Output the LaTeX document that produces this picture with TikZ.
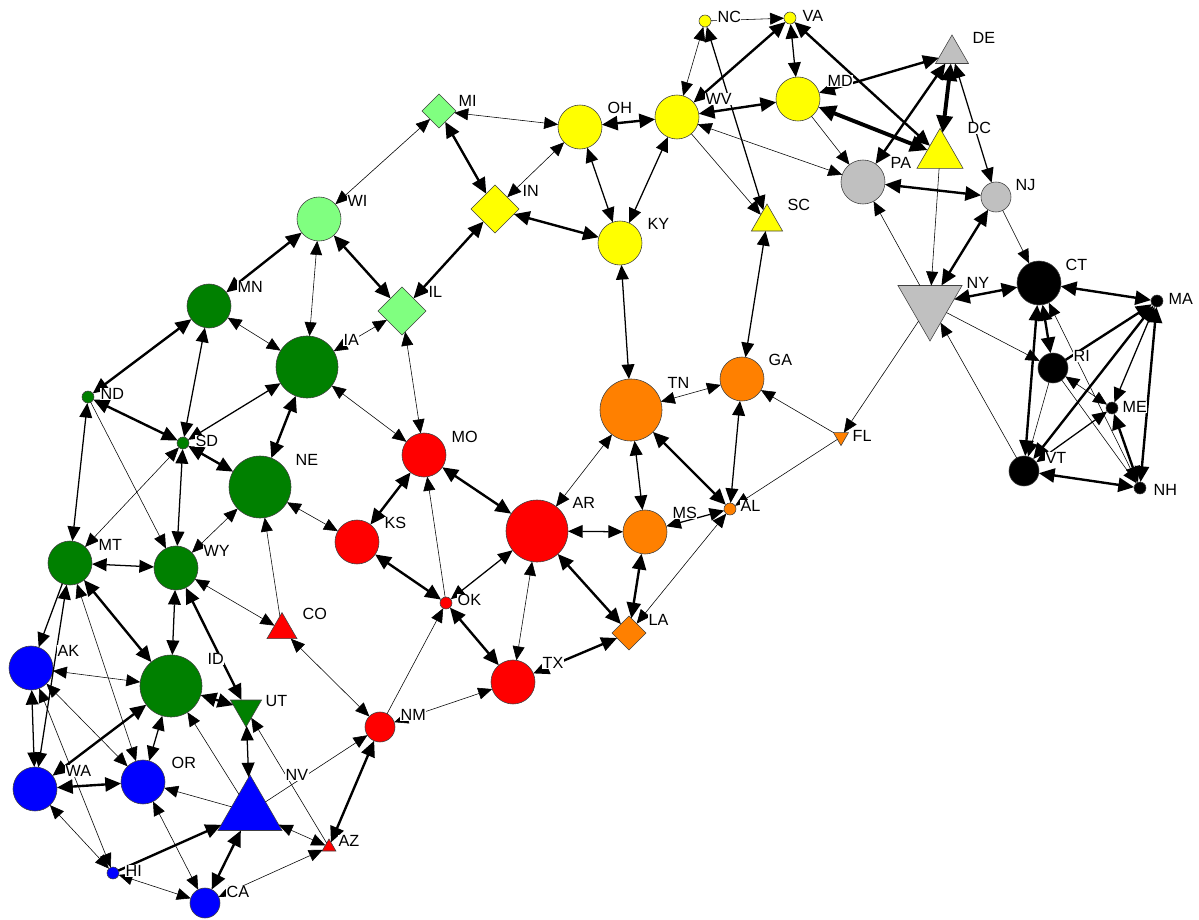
\documentclass[tikz,border=0pt]{standalone}
\usepackage{fontspec}
\setmainfont{Liberation Sans}
\usetikzlibrary{shapes.geometric,arrows.meta}
\definecolor{cgreen}{RGB}{0,128,0}
\definecolor{clgreen}{RGB}{128,255,128}
\definecolor{cyellow}{RGB}{255,255,0}
\definecolor{cred}{RGB}{255,0,0}
\definecolor{corange}{RGB}{255,128,0}
\definecolor{cblue}{RGB}{0,0,255}
\definecolor{cgrey}{RGB}{192,192,192}
\begin{document}
\begin{tikzpicture}[x=0.025cm,y=-0.025cm,
  >={Triangle[length=9.5pt 1.0,width=8pt 1.2]},
  st/.style={draw=black!75,line width=0.4pt,inner sep=0pt,outer sep=0pt},
  c1/.style={st,circle,minimum size=0.3cm},
  c2/.style={st,circle,minimum size=0.75cm},
  c3/.style={st,circle,minimum size=1.1cm},
  c4/.style={st,circle,minimum size=1.55cm},
  tu/.style={st,regular polygon,regular polygon sides=3,minimum size=#1},
  td/.style={st,regular polygon,regular polygon sides=3,shape border rotate=180,minimum size=#1},
  dm/.style={st,diamond,minimum size=#1},
  lbl/.style={fill=white,inner sep=0.3pt,anchor=west,font=\fontsize{11.5}{12}\selectfont},
  lw1/.style={line width=0.4pt},
  lw2/.style={line width=0.9pt},
  lw3/.style={line width=1.7pt},
  lw4/.style={line width=2.8pt}]
\useasboundingbox (0,0) rectangle (1199,920);
% nodes
\node[c1,fill=cyellow] (NC) at (705,21) {};
\node[c1,fill=cyellow] (VA) at (790,18) {};
\node[tu=0.95cm,fill=cgrey] (DE) at (952,54) {};
\node[c3,fill=cyellow] (MD) at (798,99) {};
\node[c3,fill=cyellow] (WV) at (677,117) {};
\node[c3,fill=cyellow] (OH) at (580,127) {};
\node[dm=0.85cm,fill=clgreen] (MI) at (439,111) {};
\node[c3,fill=clgreen] (WI) at (319,219) {};
\node[dm=1.2cm,fill=cyellow] (IN) at (495,209) {};
\node[dm=1.2cm,fill=clgreen] (IL) at (402,311) {};
\node[c3,fill=cgreen] (MN) at (209,306) {};
\node[c4,fill=cgreen] (IA) at (307,367) {};
\node[c1,fill=cgreen] (ND) at (88,397) {};
\node[c1,fill=cgreen] (SD) at (183,443) {};
\node[c4,fill=cgreen] (NE) at (260,487) {};
\node[c3,fill=cgreen] (MT) at (70,563) {};
\node[c3,fill=cgreen] (WY) at (176,568) {};
\node[c4,fill=cgreen] (ID) at (171,686) {};
\node[td=0.9cm,fill=cgreen] (UT) at (246,709) {};
\node[tu=0.87cm,fill=cred] (CO) at (282,630) {};
\node[c3,fill=cblue] (AK) at (31,668) {};
\node[c3,fill=cblue] (WA) at (35,789) {};
\node[c3,fill=cblue] (OR) at (143,782) {};
\node[c1,fill=cblue] (HI) at (113,873) {};
\node[c2,fill=cblue] (CA) at (205,903) {};
\node[tu=1.85cm,fill=cblue] (NV) at (250,812) {};
\node[tu=0.4cm,fill=cred] (AZ) at (329,847) {};
\node[c2,fill=cred] (NM) at (380,727) {};
\node[c3,fill=cred] (KS) at (357,542) {};
\node[c3,fill=cred] (MO) at (424,455) {};
\node[c1,fill=cred] (OK) at (446,603) {};
\node[c4,fill=cred] (AR) at (537,531) {};
\node[c3,fill=cred] (TX) at (513,682) {};
\node[dm=0.85cm,fill=corange] (LA) at (629,633) {};
\node[c3,fill=corange] (MS) at (645,532) {};
\node[c4,fill=corange] (TN) at (631,410) {};
\node[c3,fill=corange] (GA) at (742,379) {};
\node[c1,fill=corange] (AL) at (730,509) {};
\node[td=0.43cm,fill=corange] (FL) at (841,437) {};
\node[c3,fill=cyellow] (KY) at (620,243) {};
\node[tu=0.9cm,fill=cyellow] (SC) at (767,222) {};
\node[tu=1.33cm,fill=cyellow] (DC) at (940,155) {};
\node[c3,fill=cgrey] (PA) at (863,182) {};
\node[c2,fill=cgrey] (NJ) at (996,197) {};
\node[td=1.85cm,fill=cgrey] (NY) at (930,304) {};
\node[c3,fill=black] (CT) at (1039,283) {};
\node[c1,fill=black] (MA) at (1157,301) {};
\node[c2,fill=black] (RI) at (1053,368) {};
\node[c1,fill=black] (ME) at (1112,408) {};
\node[c2,fill=black] (VT) at (1024,471) {};
\node[c1,fill=black] (NH) at (1140,488) {};
% edges: north central
\draw[lw3,<->] (MN) -- (ND);
\draw[lw2,<->] (MN) -- (SD);
\draw[lw1,<->] (MN) -- (IA);
\draw[lw3,<->] (MN) -- (WI);
\draw[lw3,<->] (ND) -- (SD);
\draw[lw2,<->] (ND) -- (MT);
\draw[lw1,->] (ND) -- (WY);
\draw[lw2,<->] (SD) -- (IA);
\draw[lw3,<->] (SD) -- (NE);
\draw[lw2,<->] (SD) -- (WY);
\draw[lw1,<->] (MT) -- (SD);
\draw[lw3,<->] (IA) -- (NE);
\draw[lw1,<->] (WY) -- (NE);
\draw[lw2,<->] (MT) -- (WY);
\draw[lw1,->] (CO) -- (NE);
\draw[lw1,<->] (NE) -- (KS);
\draw[lw1,<->] (WI) -- (IA);
\draw[lw3,<->] (WI) -- (IL);
\draw[lw1,<->] (WI) -- (MI);
\draw[lw1,<->] (IA) -- (IL);
\draw[lw1,<->] (IA) -- (MO);
\draw[lw1,<->] (IL) -- (MO);
\draw[lw3,<->] (IL) -- (IN);
\draw[lw3,<->] (MI) -- (IN);
\draw[lw1,<->] (MI) -- (OH);
\draw[lw1,<->] (IN) -- (OH);
\draw[lw3,<->] (IN) -- (KY);
% east
\draw[lw3,<->] (OH) -- (WV);
\draw[lw2,<->] (OH) -- (KY);
\draw[lw2,<->] (WV) -- (KY);
\draw[lw1,<->] (WV) -- (NC);
\draw[lw3,<->] (WV) -- (VA);
\draw[lw1,->] (NC) -- (VA);
\draw[lw2,<->] (NC) -- (SC);
\draw[lw1,->] (WV) -- (SC);
\draw[lw2,<->] (VA) -- (MD);
\draw[lw3,<->] (MD) -- (WV);
\draw[lw1,->] (MD) -- (PA);
\draw[lw1,<->] (PA) -- (WV);
\draw[lw3,<->] (VA) -- (DC);
\draw[lw3,<->] (MD) -- (DE);
\draw[lw4,<->] (MD) -- (DC);
\draw[lw4,<->] (DC) -- (DE);
\draw[lw3,<->] (DE) -- (PA);
\draw[lw2,<->] (DE) -- (NJ);
\draw[lw3,<->] (PA) -- (NJ);
\draw[lw1,->] (DC) -- (NY);
\draw[lw1,->] (NY) -- (PA);
\draw[lw3,<->] (NJ) -- (NY);
\draw[lw1,->] (NJ) -- (CT);
\draw[lw3,<->] (NY) -- (CT);
\draw[lw1,->] (NY) -- (RI);
\draw[lw1,->] (VT) -- (NY);
\draw[lw1,->] (NY) -- (FL);
% new england
\draw[lw3,<->] (CT) -- (MA);
\draw[lw3,<->] (CT) -- (RI);
\draw[lw3,<->] (CT) -- (VT);
\draw[lw1,->] (NH) -- (CT);
\draw[lw3,->] (RI) -- (MA);
\draw[lw3,<->] (MA) -- (VT);
\draw[lw2,<->] (MA) -- (ME);
\draw[lw3,<->] (MA) -- (NH);
\draw[lw1,<->] (RI) -- (ME);
\draw[lw1,->] (RI) -- (VT);
\draw[lw1,->] (RI) -- (NH);
\draw[lw2,<->] (VT) -- (ME);
\draw[lw3,<->] (VT) -- (NH);
\draw[lw3,<->] (ME) -- (NH);
% south
\draw[lw2,<->] (KY) -- (TN);
\draw[lw2,<->] (SC) -- (GA);
\draw[lw1,<->] (TN) -- (GA);
\draw[lw2,<->] (TN) -- (MS);
\draw[lw3,<->] (TN) -- (AL);
\draw[lw2,<->] (GA) -- (AL);
\draw[lw1,->] (FL) -- (GA);
\draw[lw1,->] (FL) -- (AL);
\draw[lw2,<->] (MS) -- (AL);
\draw[lw1,<->] (AR) -- (TN);
\draw[lw2,<->] (AR) -- (MS);
\draw[lw3,<->] (AR) -- (LA);
\draw[lw3,<->] (MS) -- (LA);
\draw[lw1,<->] (LA) -- (AL);
\draw[lw3,<->] (TX) -- (LA);
\draw[lw1,<->] (AR) -- (TX);
\draw[lw3,<->] (OK) -- (TX);
\draw[lw2,<->] (OK) -- (AR);
\draw[lw3,<->] (KS) -- (OK);
\draw[lw1,->] (OK) -- (MO);
\draw[lw3,<->] (MO) -- (AR);
\draw[lw3,<->] (MO) -- (KS);
\draw[lw1,<->] (NM) -- (TX);
\draw[lw1,->] (NM) -- (OK);
\draw[lw1,<->] (CO) -- (NM);
\draw[lw3,<->] (AZ) -- (NM);
\draw[lw1,<->] (WY) -- (CO);
% west
\draw[lw2,->] (MT) -- (AK);
\draw[lw2,<->] (MT) -- (WA);
\draw[lw1,<->] (MT) -- (OR);
\draw[lw3,<->] (MT) -- (ID);
\draw[lw2,<->] (WY) -- (ID);
\draw[lw3,<->] (WY) -- (UT);
\draw[lw1,<->] (AK) -- (ID);
\draw[lw2,<->] (AK) -- (WA);
\draw[lw1,<->] (AK) -- (OR);
\draw[lw1,<->] (AK) -- (HI);
\draw[lw3,<->] (WA) -- (ID);
\draw[lw3,<->] (WA) -- (OR);
\draw[lw1,<->] (WA) -- (HI);
\draw[lw2,<->] (ID) -- (OR);
\draw[lw3,<->] (ID) -- (UT);
\draw[lw1,->] (NV) -- (ID);
\draw[lw1,->] (NV) -- (OR);
\draw[lw2,<->] (NV) -- (UT);
\draw[lw1,->] (AZ) -- (UT);
\draw[lw1,->] (NV) -- (NM);
\draw[lw1,<->] (NV) -- (AZ);
\draw[lw3,->] (HI) -- (NV);
\draw[lw3,<->] (NV) -- (CA);
\draw[lw1,<->] (OR) -- (CA);
\draw[lw1,<->] (HI) -- (CA);
\draw[lw1,<->] (CA) -- (AZ);
% labels
\node[lbl] (lNC) at (717,17) {NC};
\node[lbl] (lVA) at (802,16) {VA};
\node[lbl] (lDE) at (972,38) {DE};
\node[lbl] (lMD) at (827,81) {MD};
\node[lbl] (lWV) at (705,99) {WV};
\node[lbl] (lOH) at (607,108) {OH};
\node[lbl] (lMI) at (458,101) {MI};
\node[lbl] (lWI) at (347,201) {WI};
\node[lbl] (lIN) at (522,191) {IN};
\node[lbl] (lIL) at (428,292) {IL};
\node[lbl] (lMN) at (237,287) {MN};
\node[lbl] (lIA) at (343,340) {IA};
\node[lbl] (lKY) at (647,224) {KY};
\node[lbl] (lSC) at (787,205) {SC};
\node[lbl] (lPA) at (890,163) {PA};
\node[lbl] (lDC) at (967,128) {DC};
\node[lbl] (lNJ) at (1015,185) {NJ};
\node[lbl] (lCT) at (1065,265) {CT};
\node[lbl] (lNY) at (966,283) {NY};
\node[lbl] (lMA) at (1168,299) {MA};
\node[lbl] (lRI) at (1073,356) {RI};
\node[lbl] (lME) at (1122,407) {ME};
\node[lbl] (lVT) at (1045,458) {VT};
\node[lbl] (lNH) at (1153,490) {NH};
\node[lbl] (lTN) at (667,383) {TN};
\node[lbl] (lGA) at (768,360) {GA};
\node[lbl] (lFL) at (852,436) {FL};
\node[lbl] (lAL) at (740,506) {AL};
\node[lbl] (lMS) at (672,513) {MS};
\node[lbl] (lAR) at (572,503) {AR};
\node[lbl] (lMO) at (451,437) {MO};
\node[lbl] (lNE) at (295,460) {NE};
\node[lbl] (lKS) at (384,523) {KS};
\node[lbl] (lOK) at (457,600) {OK};
\node[lbl] (lCO) at (302,614) {CO};
\node[lbl] (lTX) at (542,663) {TX};
\node[lbl] (lLA) at (648,620) {LA};
\node[lbl] (lNM) at (400,715) {NM};
\node[lbl] (lUT) at (265,701) {UT};
\node[lbl] (lNV) at (285,775) {NV};
\node[lbl] (lAZ) at (338,841) {AZ};
\node[lbl] (lID) at (207,659) {ID};
\node[lbl] (lAK) at (57,651) {AK};
\node[lbl] (lWA) at (65,771) {WA};
\node[lbl] (lOR) at (171,763) {OR};
\node[lbl] (lHI) at (125,871) {HI};
\node[lbl] (lCA) at (226,892) {CA};
\node[lbl] (lMT) at (98,545) {MT};
\node[lbl] (lWY) at (203,551) {WY};
\node[lbl] (lND) at (100,394) {ND};
\node[lbl] (lSD) at (195,441) {SD};
\end{tikzpicture}
\end{document}
